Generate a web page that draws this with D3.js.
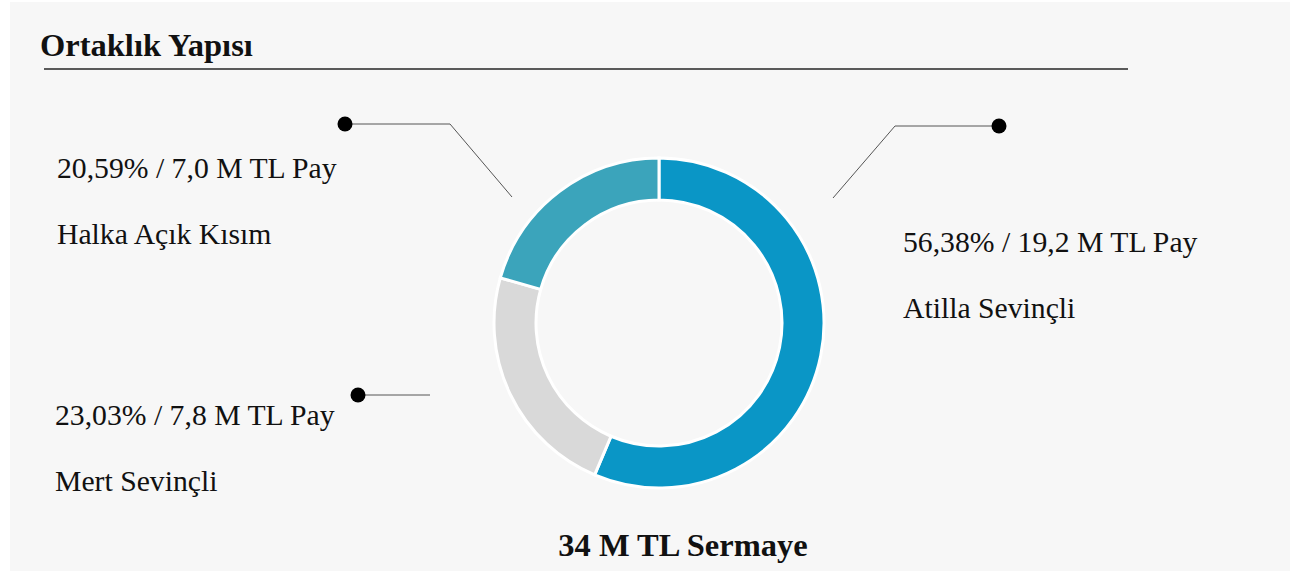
<!DOCTYPE html>
<html>
    <head>
        <meta charset="utf-8">
        <title>Ortaklık Yapısı</title>
        <script type="text/javascript" src="https://cdn.jsdelivr.net/npm/d3@7"></script>
        <style>
            body { margin: 0; background: #ffffff; }
            svg { display: block; }
        </style>
    </head>
    <body>
        <svg id="svg"></svg>

        <script>
            var WIDTH = 1298;
            var HEIGHT = 571;

            // Shareholders, in drawing order (clockwise from 12 o'clock)
            var owners = ["Atilla Sevinçli", "Mert Sevinçli", "Halka Açık Kısım"];
            var shares = [56.38, 23.03, 20.59];       // percent
            var amounts = ["19,2", "7,8", "7,0"];      // M TL
            var colors = ["#0a96c6", "#d9d9d9", "#3ba4bb"];
            var total = "34 M TL Sermaye";

            var CX = 659, CY = 323;
            var R_OUT = 165, R_IN = 123;
            var FONT = "'Liberation Serif', 'Times New Roman', serif";

            // where each label + leader sits (px)
            var labelPos = [
                {x: 903, y: 252, line: [[833, 198], [895, 126], [999, 126]]},
                {x: 55, y: 425, line: [[430, 395], [358, 395]]},
                {x: 57, y: 178, line: [[512, 197], [450, 124], [345, 124]]}
            ];

            var svg = d3.select('#svg')
                        .attr("width", WIDTH)
                        .attr("height", HEIGHT);

            // panel background
            svg.append("rect")
               .attr("x", 10).attr("y", 2)
               .attr("width", 1280).attr("height", HEIGHT - 2)
               .attr("fill", "#f7f7f7");

            svg.append("text")
               .attr("x", 40).attr("y", 56)
               .attr("font-family", FONT)
               .attr("font-weight", "bold")
               .attr("font-size", "32.5px")
               .attr("fill", "#111")
               .text("Ortaklık Yapısı");

            svg.append("line")
               .attr("x1", 44).attr("x2", 1128)
               .attr("y1", 69).attr("y2", 69)
               .attr("stroke", "#5a5a5a")
               .attr("stroke-width", 2);

            var pie = d3.pie().sort(null).value(function(d){ return d; });
            var arc = d3.arc().innerRadius(R_IN).outerRadius(R_OUT);

            var g = svg.append("g").attr("transform", "translate(" + CX + "," + CY + ")");
            g.selectAll("path")
             .data(pie(shares))
             .enter()
             .append("path")
             .attr("d", arc)
             .attr("fill", function(d, i){ return colors[i]; })
             .attr("stroke", "#ffffff")
             .attr("stroke-width", 3);

            // leaders
            var lineGen = d3.line();
            svg.selectAll("path.leader")
               .data(labelPos)
               .enter()
               .append("path")
               .attr("class", "leader")
               .attr("d", function(d){ return lineGen(d.line); })
               .attr("fill", "none")
               .attr("stroke", "#555")
               .attr("stroke-width", 1);

            svg.selectAll("circle.dot")
               .data(labelPos)
               .enter()
               .append("circle")
               .attr("class", "dot")
               .attr("cx", function(d){ return d.line[d.line.length - 1][0]; })
               .attr("cy", function(d){ return d.line[d.line.length - 1][1]; })
               .attr("r", 7.5)
               .attr("fill", "#000");

            // labels
            var fmt = function(v){ return v.toFixed(2).replace(".", ","); };
            labelPos.forEach(function(p, i){
                svg.append("text")
                   .attr("x", p.x).attr("y", p.y)
                   .attr("font-family", FONT)
                   .attr("font-size", "29.7px")
                   .attr("fill", "#111")
                   .text(fmt(shares[i]) + "% / " + amounts[i] + " M TL Pay");
                svg.append("text")
                   .attr("x", p.x).attr("y", p.y + 66)
                   .attr("font-family", FONT)
                   .attr("font-size", "29.7px")
                   .attr("fill", "#111")
                   .text(owners[i]);
            });

            svg.append("text")
               .attr("x", 683).attr("y", 556)
               .attr("text-anchor", "middle")
               .attr("font-family", FONT)
               .attr("font-weight", "bold")
               .attr("font-size", "32.5px")
               .attr("fill", "#111")
               .text(total);
        </script>
    </body>
</html>
